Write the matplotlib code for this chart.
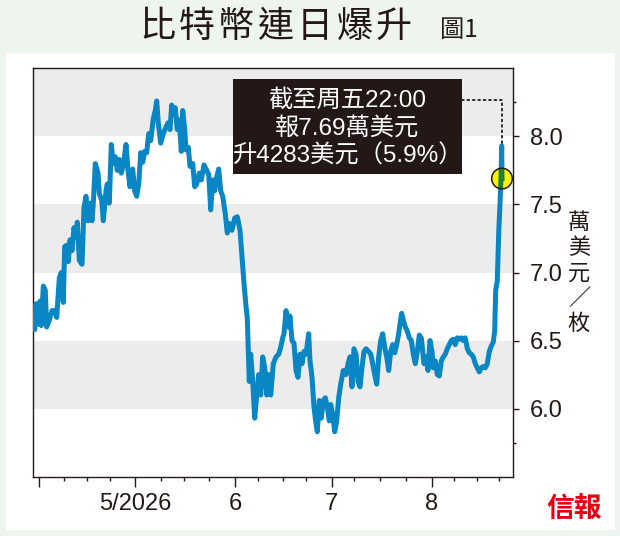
import numpy as np
import pandas as pd
import matplotlib
matplotlib.use('Agg')
import matplotlib.pyplot as plt
import matplotlib.dates as mdates
from matplotlib.patches import Rectangle, Circle
from matplotlib.transforms import IdentityTransform

# bitcoin price, 萬美元 per coin; x = days since 2026-04-01
day_offset = [
    -1.86, -1.24, -0.84, -0.12, 0.40, 0.81, 1.43, 2.05, 2.48, 3.29,
    4.13, 5.06, 5.59, 6.40, 7.02, 7.64, 8.07, 8.70, 9.19, 9.72,
    10.34, 10.96, 11.58, 11.99, 12.61, 13.45, 14.07, 14.69, 15.31, 15.93,
    16.55, 16.96, 17.58, 18.42, 18.82, 19.57, 20.06, 20.90, 21.30, 21.93,
    22.55, 23.17, 23.79, 24.41, 25.03, 25.65, 26.27, 27.11, 27.73, 28.35,
    29.19, 29.81, 30.43, 31.06, 31.68, 32.30, 32.92, 33.54, 34.16, 34.78,
    35.59, 36.21, 36.65, 37.14, 37.89, 38.70, 39.53, 40.16, 40.78, 41.30,
    41.80, 42.42, 43.04, 43.66, 44.29, 44.72, 45.34, 45.75, 46.46, 46.99,
    47.83, 48.45, 49.07, 49.88, 50.50, 51.34, 52.17, 52.80, 53.42, 54.04,
    54.66, 55.28, 55.90, 56.52, 57.14, 57.95, 58.57, 59.19, 60.03, 60.87,
    61.68, 62.52, 63.14, 63.76, 64.38, 64.78, 65.09, 65.40, 65.84, 66.46,
    67.08, 67.70, 68.32, 68.94, 69.57, 70.19, 70.81, 71.43, 72.05, 72.86,
    73.70, 74.53, 75.16, 75.78, 76.18, 76.80, 77.42, 78.04, 78.66, 79.29,
    79.91, 80.53, 81.15, 81.77, 82.39, 83.01, 83.85, 84.25, 84.88, 85.50,
    85.90, 86.52, 87.14, 87.76, 88.39, 89.01, 89.63, 90.25, 90.68, 91.30,
    91.93, 92.55, 93.17, 93.79, 94.60, 95.43, 96.06, 96.68, 97.30, 97.92,
    98.54, 99.16, 99.78, 100.40, 101.02, 101.65, 102.48, 103.11, 103.73, 104.35,
    104.97, 105.59, 106.21, 106.83, 107.45, 108.07, 108.70, 109.32, 109.94, 110.56,
    111.18, 111.80, 112.20, 112.73, 113.23, 113.85, 114.47, 115.09, 115.71, 116.34,
    116.96, 117.58, 118.20, 118.82, 119.25, 119.66, 120.28, 120.90, 121.52, 122.14,
    122.55, 123.17, 123.79, 124.41, 125.03, 125.65, 126.27, 126.89, 127.52, 128.14,
    128.76, 129.38, 130.00, 130.62, 131.24, 131.86, 132.48, 133.11, 133.73, 134.35,
    134.97, 135.59, 136.21, 136.83, 137.45, 138.07, 138.70, 139.32, 139.94, 140.56,
    141.18, 141.61, 141.93, 142.42, 142.86, 143.27, 143.57, 143.79, 143.88,
]
price = [
    6.65, 6.58, 6.77, 6.62, 6.79, 6.61, 6.90, 6.87, 6.60, 6.65,
    6.72, 6.72, 6.67, 6.96, 7.00, 6.78, 7.19, 7.20, 7.08, 7.24,
    7.16, 7.33, 7.26, 7.37, 7.09, 7.06, 7.48, 7.56, 7.38, 7.51,
    7.38, 7.51, 7.80, 7.73, 7.58, 7.53, 7.38, 7.60, 7.65, 7.51,
    7.94, 7.80, 7.85, 7.75, 7.83, 7.73, 7.79, 7.94, 7.75, 7.63,
    7.76, 7.60, 7.56, 7.65, 7.88, 7.81, 7.89, 7.88, 8.02, 7.97,
    8.13, 8.19, 8.26, 8.10, 7.95, 8.02, 8.07, 8.10, 8.05, 8.23,
    8.16, 8.21, 8.05, 8.12, 7.89, 8.19, 8.05, 7.90, 7.92, 7.78,
    7.80, 7.63, 7.65, 7.73, 7.68, 7.79, 7.75, 7.72, 7.46, 7.68,
    7.60, 7.70, 7.76, 7.60, 7.56, 7.43, 7.29, 7.36, 7.31, 7.40,
    7.41, 7.31, 7.11, 6.92, 6.75, 6.67, 6.42, 6.20, 6.40, 6.20,
    5.93, 6.10, 6.25, 6.10, 6.38, 6.30, 6.10, 6.25, 6.10, 6.33,
    6.38, 6.40, 6.45, 6.52, 6.55, 6.72, 6.60, 6.68, 6.50, 6.48,
    6.28, 6.23, 6.40, 6.33, 6.42, 6.40, 6.55, 6.35, 6.23, 6.01,
    5.93, 5.83, 6.06, 5.93, 6.06, 6.08, 6.01, 5.91, 6.03, 5.96,
    5.83, 5.91, 6.08, 6.18, 6.28, 6.25, 6.33, 6.38, 6.16, 6.44,
    6.40, 6.20, 6.16, 6.30, 6.42, 6.44, 6.42, 6.40, 6.33, 6.25,
    6.18, 6.38, 6.50, 6.55, 6.45, 6.38, 6.28, 6.42, 6.47, 6.41,
    6.47, 6.55, 6.62, 6.70, 6.65, 6.60, 6.57, 6.52, 6.50, 6.40,
    6.33, 6.42, 6.54, 6.52, 6.42, 6.33, 6.38, 6.28, 6.50, 6.42,
    6.30, 6.35, 6.25, 6.24, 6.35, 6.38, 6.40, 6.44, 6.47, 6.50,
    6.51, 6.47, 6.52, 6.51, 6.52, 6.50, 6.52, 6.44, 6.41, 6.40,
    6.38, 6.33, 6.30, 6.27, 6.30, 6.31, 6.30, 6.33, 6.42, 6.46,
    6.49, 6.57, 6.87, 6.94, 7.29, 7.51, 7.70, 7.93, 7.69,
]

month_ticks = ['2026-04-01', '2026-05-01', '2026-06-01', '2026-07-01', '2026-08-01']
month_labels = ['', '5/2026', '6', '7', '8']
week_ticks = ['2026-04-09', '2026-04-16', '2026-04-23', '2026-05-09', '2026-05-16',
              '2026-05-24', '2026-06-08', '2026-06-16', '2026-06-23', '2026-07-08',
              '2026-07-16', '2026-07-24', '2026-08-08', '2026-08-15', '2026-08-22']
y_ticks = [6.0, 6.5, 7.0, 7.5, 8.0]
y_minor = [5.75, 8.25]
bands = [(6.0, 6.5), (7.0, 7.5), (8.0, 8.5)]

title = '比特幣連日爆升'
fig_no = '圖1'
note_lines = ['截至周五22:00', '報7.69萬美元', '升4283美元（5.9%）']
y_unit = '萬\n美\n元\n／\n枚'

ink = '#231815'
blue = '#0a86c4'
cjk = ['Noto Sans CJK TC', 'DejaVu Sans']
latin = ['Liberation Sans', 'Noto Sans CJK TC', 'DejaVu Sans']

start = pd.Timestamp('2026-04-01')
dates = start + pd.to_timedelta(day_offset, unit='D')

fig = plt.figure(figsize=(6.2, 5.36), dpi=100)
fig.patch.set_facecolor('#eef5ee')
fig.patches.append(Rectangle((6 / 620, 6 / 536), 609 / 620, 477 / 536,
                             transform=fig.transFigure, facecolor='white',
                             edgecolor='none', zorder=-10))

ax = fig.add_axes([33 / 620, 59.3 / 536, 480 / 620, 408.4 / 536])
ax.set_facecolor('white')
ax.set_xlim(start - pd.Timedelta(days=1.77), start + pd.Timedelta(days=147.3))
ax.set_ylim(5.5, 8.5)

for lo, hi in bands:
    ax.axhspan(lo, hi, color='#ebeceb', lw=0, zorder=0)

ax.plot(dates, price, color=blue, lw=3.6, solid_joinstyle='round',
        solid_capstyle='round', zorder=3)

# marker on latest price, with the line tinted green where it crosses it
px, py = ax.transData.transform((mdates.date2num(dates[-1]), price[-1]))
dot = Circle((px, py), 10.3, transform=IdentityTransform(),
             facecolor='#fff200', edgecolor='none', zorder=4)
ax.add_patch(dot)
green, = ax.plot(dates[-4:], price[-4:], color='#1b7f3a', lw=3.6, zorder=5)
green.set_clip_path(dot)
ax.add_patch(Circle((px, py), 10.3, transform=IdentityTransform(),
                    facecolor='none', edgecolor=ink, lw=1.1, zorder=6))

# note box and dotted leader
ax.add_patch(Rectangle((0.416, 0.741), 0.477, 0.232, transform=ax.transAxes,
                       facecolor=ink, edgecolor='none', zorder=7))
for yy, s in zip([0.922, 0.853, 0.785], note_lines):
    ax.text(0.655, yy, s, transform=ax.transAxes, ha='center', va='center',
            color='white', fontsize=17.5, family=latin, zorder=8)
ax.annotate('', xy=(dates[-2], price[-2]), xycoords='data',
            xytext=(0.893, 0.922), textcoords='axes fraction',
            arrowprops=dict(arrowstyle='-', color=ink, lw=1.3, ls=(0, (1, 2)),
                            connectionstyle='angle,angleA=0,angleB=90,rad=0',
                            shrinkA=0, shrinkB=0), zorder=6)

for sp in ax.spines.values():
    sp.set_color(ink)
    sp.set_linewidth(1.0)

ax.xaxis.set_major_locator(plt.FixedLocator(mdates.date2num(pd.to_datetime(month_ticks))))
ax.xaxis.set_major_formatter(plt.FixedFormatter(month_labels))
ax.xaxis.set_minor_locator(plt.FixedLocator(mdates.date2num(pd.to_datetime(week_ticks))))
ax.tick_params(axis='x', which='major', length=7, width=1, color=ink, pad=4.5,
               labelsize=17, labelcolor=ink)
ax.tick_params(axis='x', which='minor', length=3, width=1, color=ink)

ax.yaxis.tick_right()
ax.set_yticks(y_ticks)
ax.set_yticklabels([f'{v:.1f}' for v in y_ticks])
ax.set_yticks(y_minor, minor=True)
ax.tick_params(axis='y', which='major', length=4, width=1, color=ink, pad=8,
               labelsize=17, labelcolor=ink)
ax.tick_params(axis='y', which='minor', length=2.5, width=1, color=ink)
for lab in ax.get_xticklabels() + ax.get_yticklabels():
    lab.set_family(latin)

# title, spaced out character by character
for i, ch in enumerate(title):
    fig.text((157.5 + i * 39.4) / 620, 1 - 27 / 536, ch, ha='center', va='center',
             fontsize=26, color=ink, family=cjk)
fig.text(459 / 620, 1 - 30 / 536, fig_no, ha='center', va='center',
         fontsize=17.5, color=ink, family=cjk, fontweight='medium')
fig.text(579 / 620, 1 - 273 / 536, y_unit, ha='center', va='center',
         fontsize=16, color=ink, family=cjk, linespacing=1.13)
fig.text(574 / 620, 1 - 510 / 536, '信報', ha='center', va='center',
         fontsize=20, color='#e50012', fontweight='bold', family=cjk)

fig.savefig('out.png', dpi=100, facecolor=fig.get_facecolor())
